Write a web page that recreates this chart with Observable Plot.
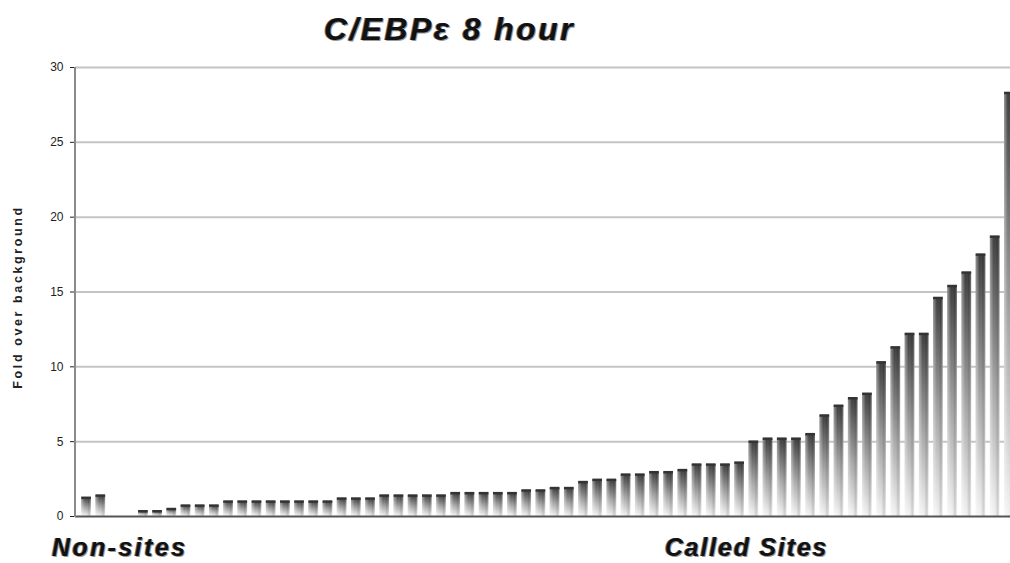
<!DOCTYPE html>
<html><head><meta charset="utf-8">
<script src="https://cdn.jsdelivr.net/npm/d3@7"></script>
<script src="https://cdn.jsdelivr.net/npm/@observablehq/plot@0.6"></script>
<style>
body{margin:0;background:#fff;width:1010px;height:563px;overflow:hidden;position:relative;font-family:"Liberation Sans",Arial,sans-serif;}
#chart{position:absolute;left:0;top:0;}
.lbl{position:absolute;font-weight:bold;font-style:italic;color:#111;text-shadow:1px 1px 0 #9a9a9a,-1px 0 0 #777;white-space:nowrap;line-height:1;}
#ylabel{position:absolute;left:-82px;top:289px;width:200px;text-align:center;font-size:12.5px;letter-spacing:2.6px;font-weight:bold;color:#222;transform:rotate(-90deg);transform-origin:50% 50%;white-space:nowrap;line-height:16px;}
</style></head><body>
<div id="chart"></div>
<div class="lbl" style="left:324px;top:13px;font-size:32px;letter-spacing:2.4px;">C/EBPε 8 hour</div>
<div class="lbl" style="left:52px;top:535px;font-size:25px;letter-spacing:2.4px;">Non-sites</div>
<div class="lbl" style="left:665px;top:535px;font-size:25px;letter-spacing:1.8px;">Called Sites</div>
<div id="ylabel">Fold over background</div>
<script>
const groups = ["Non-sites", "Called Sites"];
const nonSites = [1.25, 1.4];
const calledSites = [
  0.35, 0.35, 0.5, 0.73, 0.73, 0.73,
  1.0, 1.0, 1.0, 1.0, 1.0, 1.0, 1.0, 1.0,
  1.2, 1.2, 1.2,
  1.4, 1.4, 1.4, 1.4, 1.4,
  1.56, 1.56, 1.56, 1.56, 1.56,
  1.74, 1.74, 1.9, 1.9,
  2.3, 2.45, 2.45, 2.8, 2.8, 2.96, 2.96, 3.1,
  3.47, 3.47, 3.47, 3.6,
  5.0, 5.2, 5.2, 5.2, 5.5, 6.75, 7.4, 7.9, 8.2,
  10.3, 11.3, 12.2, 12.2, 14.6, 15.4, 16.3, 17.5, 18.7, 28.3
];
const gapSlots = 2;
const yTicks = [0, 5, 10, 15, 20, 25, 30];

const rows = [
  ...nonSites.map((v, i) => ({slot: i, value: v, group: groups[0]})),
  ...calledSites.map((v, i) => ({slot: nonSites.length + gapSlots + i, value: v, group: groups[1]}))
];
const nSlots = nonSites.length + gapSlots + calledSites.length;

const defsMark = () => {
  const g = d3.create("svg:g");
  const defs = g.append("defs");
  const v = defs.append("linearGradient").attr("id", "barV").attr("x1", 0).attr("y1", 0).attr("x2", 0).attr("y2", 1);
  v.append("stop").attr("offset", "0%").attr("stop-color", "#3c3c3c");
  v.append("stop").attr("offset", "55%").attr("stop-color", "#a8a8a8");
  v.append("stop").attr("offset", "100%").attr("stop-color", "#f4f4f4");
  const h = defs.append("linearGradient").attr("id", "barH").attr("x1", 0).attr("x2", 1).attr("y1", 0).attr("y2", 0);
  h.append("stop").attr("offset", "0%").attr("stop-color", "#fff").attr("stop-opacity", 0.45);
  h.append("stop").attr("offset", "40%").attr("stop-color", "#fff").attr("stop-opacity", 0);
  h.append("stop").attr("offset", "75%").attr("stop-color", "#000").attr("stop-opacity", 0.12);
  h.append("stop").attr("offset", "100%").attr("stop-color", "#fff").attr("stop-opacity", 0.3);
  return g.node();
};

const axisLine = (index, scales, values, dims) => {
  const x0 = dims && dims.marginLeft != null ? dims.marginLeft : 75;
  const y1 = scales.y(30), y2 = scales.y(0);
  return d3.create("svg:line").attr("x1", x0).attr("x2", x0).attr("y1", y1).attr("y2", y2 + 1)
    .attr("stroke", "#8a8a8a").attr("stroke-width", 2).node();
};

const chart = Plot.plot({
  width: 1010,
  height: 563,
  marginTop: 67,
  marginBottom: 47,
  marginLeft: 75,
  marginRight: 0,
  style: {fontFamily: "Liberation Sans, Arial, sans-serif", color: "#222", background: "#fff", fontSize: "12px"},
  x: {type: "band", domain: d3.range(nSlots), range: [79, 1016], paddingInner: 0.32, paddingOuter: 0.16, round: false, axis: null},
  y: {domain: [0, 30], ticks: yTicks, tickSize: 5, tickPadding: 7, label: null},
  marks: [
    defsMark,
    Plot.ruleY(yTicks.slice(1), {stroke: "#c4c4c4", strokeWidth: 2}),
    Plot.barY(rows, {x: "slot", y: "value", fill: "url(#barV)"}),
    Plot.barY(rows, {x: "slot", y: "value", fill: "url(#barH)"}),
    Plot.tickY(rows, {x: "slot", y: "value", stroke: "#333", strokeWidth: 2.5}),
    Plot.ruleY([0], {stroke: "#555", strokeWidth: 2}),
    axisLine
  ]
});
document.getElementById("chart").appendChild(chart);
</script>
</body></html>
